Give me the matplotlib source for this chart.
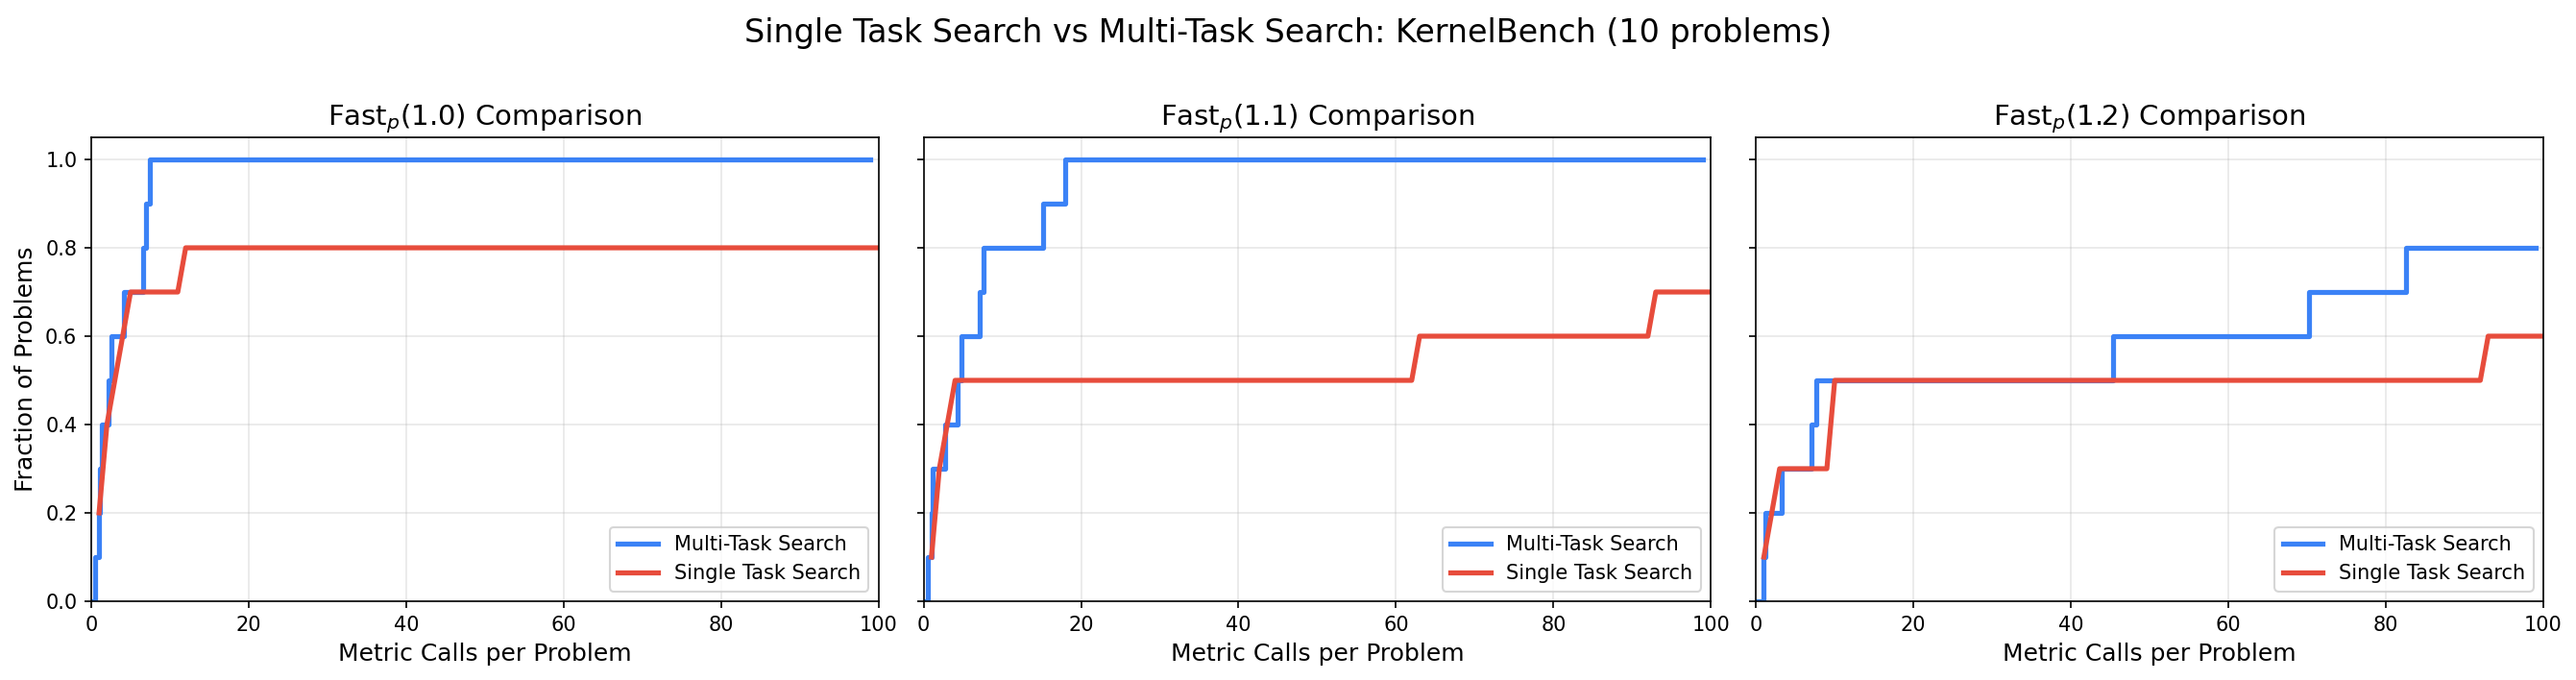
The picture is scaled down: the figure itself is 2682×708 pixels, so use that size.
import numpy as np
import matplotlib
matplotlib.use('Agg')
import matplotlib.pyplot as plt

# multi-task search: step curves (x = metric calls per problem)
multi_x_10=[0, 0.5, 1.0, 1.1, 1.4, 2.2, 2.6, 4.1, 6.6, 6.9, 7.4, 99]
multi_y_10=[0, 0.1, 0.2, 0.3, 0.4, 0.5, 0.6, 0.7, 0.8, 0.9, 1.0, 1.0]
multi_x_11=[0, 0.5, 1.0, 1.2, 2.7, 4.3, 4.75, 7.1, 7.6, 15.2, 18.0, 99]
multi_y_11=[0, 0.1, 0.2, 0.3, 0.4, 0.5, 0.6, 0.7, 0.8, 0.9, 1.0, 1.0]
multi_x_12=[0, 1.0, 1.2, 3.3, 7.0, 7.6, 45.4, 70.2, 82.6, 99]
multi_y_12=[0, 0.1, 0.2, 0.3, 0.4, 0.5, 0.6, 0.7, 0.8, 0.8]

# single task search: sampled at integer call counts
single_x_10=[1, 2, 5, 11, 12, 100]
single_y_10=[0.2, 0.4, 0.7, 0.7, 0.8, 0.8]
single_x_11=[1, 2, 4, 62, 63, 92, 93, 100]
single_y_11=[0.1, 0.3, 0.5, 0.5, 0.6, 0.6, 0.7, 0.7]
single_x_12=[1, 3, 9, 10, 92, 93, 100]
single_y_12=[0.1, 0.3, 0.3, 0.5, 0.5, 0.6, 0.6]

thresholds=['1.0','1.1','1.2']
multi=[(multi_x_10,multi_y_10),(multi_x_11,multi_y_11),(multi_x_12,multi_y_12)]
single=[(single_x_10,single_y_10),(single_x_11,single_y_11),(single_x_12,single_y_12)]

blue='#3b82f6'
red='#e74c3c'

fig,axes=plt.subplots(1,3,figsize=(17.88,4.72),dpi=150,sharey=True)
fig.subplots_adjust(left=0.0354,right=0.9873,bottom=0.1158,top=0.798,wspace=0.0573)

for i,ax in enumerate(axes):
    ax.plot(multi[i][0],multi[i][1],drawstyle='steps-post',color=blue,linewidth=2.5,label='Multi-Task Search')
    ax.plot(single[i][0],single[i][1],color=red,linewidth=2.5,label='Single Task Search')
    ax.set_xlim(0,100)
    ax.set_ylim(0,1.05)
    ax.set_title(r'Fast$_p$('+thresholds[i]+') Comparison',fontsize=14)
    ax.set_xlabel('Metric Calls per Problem',fontsize=12)
    ax.grid(True,alpha=0.3)
    ax.legend(loc='lower right',fontsize=10)
axes[0].set_ylabel('Fraction of Problems',fontsize=12)

fig.suptitle('Single Task Search vs Multi-Task Search: KernelBench (10 problems)',fontsize=16,y=0.975)
plt.savefig('out.png',dpi=150)
